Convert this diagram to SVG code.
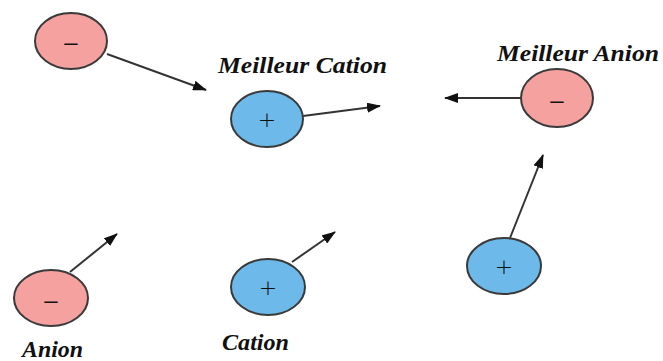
<svg xmlns="http://www.w3.org/2000/svg" width="663" height="361" viewBox="0 0 663 361">
  <style>
    .anion { fill: #f4a19f; stroke: #3a3a3a; stroke-width: 2; }
    .cation { fill: #6db9e9; stroke: #3a3a3a; stroke-width: 2; }
    .sign { font-family: "DejaVu Sans", "Liberation Sans", sans-serif; font-weight: 300; font-size: 22px; fill: #111; text-anchor: middle; }
    .minus { font-family: "Liberation Sans", Arial, sans-serif; font-size: 24px; fill: #111; text-anchor: middle; }
    .label { font-family: "Liberation Serif", "Times New Roman", serif; font-weight: bold; font-style: italic; font-size: 24px; fill: #111; }
    .edge { stroke: #333; stroke-width: 2; fill: none; marker-end: url(#arrow); }
  </style>
  <defs>
    <marker id="arrow" viewBox="0 0 14 10" refX="13" refY="5" markerWidth="7" markerHeight="5" orient="auto" markerUnits="strokeWidth">
      <path d="M0,0 L14,5 L0,10 Z" fill="#111"/>
    </marker>
  </defs>
  <rect width="663" height="361" fill="#fff"/>

  <g id="connectors">
    <line class="edge" x1="107" y1="54" x2="206" y2="90"/>
    <line class="edge" x1="303" y1="116" x2="380" y2="106"/>
    <line class="edge" x1="521" y1="98" x2="445" y2="98"/>
    <line class="edge" x1="510" y1="238" x2="543" y2="155"/>
    <line class="edge" x1="70" y1="272" x2="117" y2="234"/>
    <line class="edge" x1="292" y1="262" x2="335" y2="232"/>
  </g>

  <g id="anion-top">
    <ellipse class="anion" cx="71" cy="41" rx="36" ry="28"/>
    <text class="minus" x="71" y="50">–</text>
  </g>

  <g id="meilleur-cation">
    <text class="label" x="218" y="73" textLength="169" lengthAdjust="spacingAndGlyphs">Meilleur Cation</text>
    <ellipse class="cation" cx="267" cy="119" rx="36" ry="28"/>
    <text class="sign" x="267" y="127">+</text>
  </g>

  <g id="meilleur-anion">
    <text class="label" x="497" y="61" textLength="162" lengthAdjust="spacingAndGlyphs">Meilleur Anion</text>
    <ellipse class="anion" cx="557" cy="98" rx="36" ry="29"/>
    <text class="minus" x="557" y="108">–</text>
  </g>

  <g id="cation-right">
    <ellipse class="cation" cx="504" cy="266" rx="37" ry="28"/>
    <text class="sign" x="504" y="274">+</text>
  </g>

  <g id="anion">
    <ellipse class="anion" cx="51" cy="298" rx="37" ry="28"/>
    <text class="minus" x="51" y="308">–</text>
    <text class="label" x="22" y="357" textLength="61" lengthAdjust="spacingAndGlyphs">Anion</text>
  </g>

  <g id="cation">
    <ellipse class="cation" cx="268" cy="287" rx="37" ry="28"/>
    <text class="sign" x="268" y="295">+</text>
    <text class="label" x="222" y="350" textLength="67" lengthAdjust="spacingAndGlyphs">Cation</text>
  </g>
</svg>
